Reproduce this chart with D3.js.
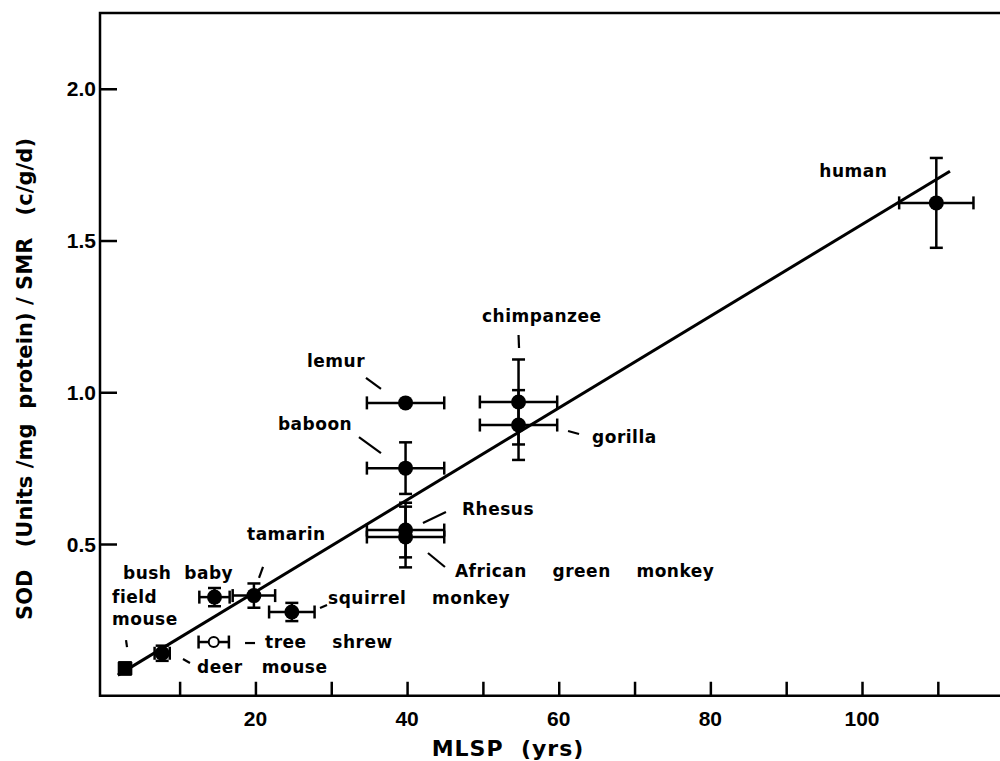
<!DOCTYPE html>
<html>
<head>
<meta charset="utf-8">
<script src="https://cdn.jsdelivr.net/npm/d3@7"></script>
<style>
  html, body { margin: 0; padding: 0; background: #fff; }
  svg { display: block; }
  text { white-space: pre; fill: #000; }
</style>
</head>
<body>
<script>
// ---------------- data ----------------
const species   = ["field mouse", "deer mouse", "tree shrew", "bush baby", "tamarin", "squirrel monkey",
                   "lemur", "baboon", "Rhesus", "African green monkey", "chimpanzee", "gorilla", "human"];
const mlsp      = [2.8, 7.7, 14.5, 14.6, 19.8, 24.8, 39.8, 39.8, 39.8, 39.8, 54.7, 54.7, 109.8];
const mlspErr   = [0.8, 1.0, 2.0, 2.0, 2.8, 3.0, 5.1, 5.1, 5.1, 5.1, 5.1, 5.1, 4.9];
const sodRatio  = [0.09, 0.14, 0.177, 0.325, 0.33, 0.276, 0.965, 0.75, 0.546, 0.523, 0.968, 0.892, 1.624];
const sodErr    = [0.02, 0.025, 0, 0.03, 0.04, 0.03, 0, 0.085, 0.09, 0.10, 0.14, 0.115, 0.148];
const markerKind = ["square", "circle", "open", "circle", "circle", "circle",
                    "circle", "circle", "circle", "circle", "circle", "circle", "circle"];
const xTicks      = [10, 20, 30, 40, 50, 60, 70, 80, 90, 100, 110];
const xTickLabels = [20, 40, 60, 80, 100];
const yTicks      = [0.5, 1.0, 1.5, 2.0];
const fitIntercept = 0.040;
const fitSlope     = 0.01513;
const fitRange     = [1.85, 111.6];

// ---------------- layout (pixel offsets of labels from their point) ----------------
const labelLayout = {
  "human":                {lines: ["human"], dx: -117, dy: -26},
  "chimpanzee":           {lines: ["chimpanzee"], dx: -36.5, dy: -80, leader: [0, -67, 0.5, -54]},
  "lemur":                {lines: ["lemur"], dx: -98.6, dy: -36, leader: [-39.6, -25, -24.6, -14]},
  "baboon":               {lines: ["baboon"], dx: -127.6, dy: -38, leader: [-46.6, -31, -24.6, -15]},
  "Rhesus":               {lines: ["Rhesus"], dx: 56.4, dy: -15, leader: [17.4, -7, 40.4, -18]},
  "African green monkey": {lines: ["African    green    monkey"], dx: 49.4, dy: 40, leader: [22.4, 16, 39.4, 30]},
  "gorilla":              {lines: ["gorilla"], dx: 73.5, dy: 18, leader: [49.5, 6, 60.5, 9]},
  "tamarin":              {lines: ["tamarin"], dx: -6.9, dy: -55.6, leader: [9.1, -28.6, 5.1, -17.6]},
  "bush baby":            {lines: ["bush  baby"], dx: -91.5, dy: -18},
  "field mouse":          {lines: ["field", "mouse"], dx: -13, dy: -65.4, leader: [1, -28.4, 2, -21.4]},
  "deer mouse":           {lines: ["deer   mouse"], dx: 34.8, dy: 19.7, leader: [20.8, 5.7, 27.8, 9.7]},
  "tree shrew":           {lines: ["tree    shrew"], dx: 51.3, dy: 6, leader: [31.3, 1, 41.3, 1]},
  "squirrel monkey":      {lines: ["squirrel    monkey"], dx: 36.2, dy: -8, leader: [28.2, -4, 35.2, -7]}
};

const W = 1000, H = 761;
const svg = d3.select("body").append("svg").attr("width", W).attr("height", H);

const x = d3.scaleLinear().domain([-0.5, 118.2]).range([100, 1000]);
const y = d3.scaleLinear().domain([0, 2.25]).range([695.75, 12.9]);

const labelFont = "'DejaVu Sans', sans-serif";
const tickFont  = "'Liberation Sans', Arial, sans-serif";

// frame: left, bottom and top lines
const frame = svg.append("g").attr("stroke", "#000").attr("stroke-width", 2.5).attr("fill", "none");
frame.append("path").attr("d", `M${x(118.2)},${y(2.25)} H${x(-0.5)} V${y(0)} H${x(118.2)}`)
  .attr("stroke-linejoin", "miter");

// x axis ticks (inward)
const xAxis = d3.axisTop(x).tickValues(xTicks).tickSize(14).tickFormat("");
const gx = svg.append("g").attr("transform", `translate(0,${y(0)})`).call(xAxis);
gx.select(".domain").remove();
gx.selectAll(".tick line").attr("stroke", "#000").attr("stroke-width", 2.5);
svg.append("g").selectAll("text").data(xTickLabels).join("text")
  .attr("x", d => x(d)).attr("y", y(0) + 30)
  .attr("text-anchor", "middle")
  .attr("font-family", tickFont).attr("font-weight", "bold").attr("font-size", 21)
  .text(d => d);

// y axis ticks (inward)
const yAxis = d3.axisRight(y).tickValues(yTicks).tickSize(17).tickFormat("");
const gy = svg.append("g").attr("transform", `translate(${x(-0.5)},0)`).call(yAxis);
gy.select(".domain").remove();
gy.selectAll(".tick line").attr("stroke", "#000").attr("stroke-width", 2.5);
svg.append("g").selectAll("text").data(yTicks).join("text")
  .attr("x", 96).attr("y", d => y(d) + 7.5)
  .attr("text-anchor", "end")
  .attr("font-family", tickFont).attr("font-weight", "bold").attr("font-size", 21)
  .text(d => d.toFixed(1));

// axis titles
svg.append("text")
  .attr("x", 508).attr("y", 756)
  .attr("text-anchor", "middle")
  .attr("font-family", labelFont).attr("font-weight", "bold").attr("font-size", 22)
  .attr("letter-spacing", 1)
  .text("MLSP  (yrs)");
svg.append("text")
  .attr("transform", `translate(32,379) rotate(-90)`)
  .attr("text-anchor", "middle")
  .attr("font-family", labelFont).attr("font-weight", "bold").attr("font-size", 21)
  .attr("textLength", 482).attr("lengthAdjust", "spacing")
  .text("SOD   (Units /mg  protein) / SMR   (c/g/d)");

// regression line
svg.append("line")
  .attr("x1", x(fitRange[0])).attr("y1", y(fitIntercept + fitSlope * fitRange[0]))
  .attr("x2", x(fitRange[1])).attr("y2", y(fitIntercept + fitSlope * fitRange[1]))
  .attr("stroke", "#000").attr("stroke-width", 3);

// error bars + markers
const pts = species.map((s, i) => ({s, i, mx: mlsp[i], me: mlspErr[i], sy: sodRatio[i], se: sodErr[i], kind: markerKind[i]}));
const eb = svg.append("g").attr("stroke", "#000").attr("stroke-width", 2.5).attr("fill", "none");
const cap = 6.5;
pts.forEach(p => {
  const cx = x(p.mx), cy = y(p.sy);
  if (p.me > 0) {
    const x0 = x(p.mx - p.me), x1 = x(p.mx + p.me);
    eb.append("line").attr("x1", x0).attr("x2", x1).attr("y1", cy).attr("y2", cy);
    eb.append("line").attr("x1", x0).attr("x2", x0).attr("y1", cy - cap).attr("y2", cy + cap);
    eb.append("line").attr("x1", x1).attr("x2", x1).attr("y1", cy - cap).attr("y2", cy + cap);
  }
  if (p.se > 0) {
    const y0 = y(p.sy - p.se), y1 = y(p.sy + p.se);
    eb.append("line").attr("x1", cx).attr("x2", cx).attr("y1", y0).attr("y2", y1);
    eb.append("line").attr("x1", cx - cap).attr("x2", cx + cap).attr("y1", y0).attr("y2", y0);
    eb.append("line").attr("x1", cx - cap).attr("x2", cx + cap).attr("y1", y1).attr("y2", y1);
  }
});
const mk = svg.append("g");
pts.forEach(p => {
  const cx = x(p.mx), cy = y(p.sy);
  if (p.kind === "square") {
    mk.append("rect").attr("x", cx - 7).attr("y", cy - 7).attr("width", 14).attr("height", 14).attr("fill", "#000");
  } else if (p.kind === "open") {
    mk.append("circle").attr("cx", cx).attr("cy", cy).attr("r", 5).attr("fill", "#fff")
      .attr("stroke", "#000").attr("stroke-width", 2);
  } else {
    mk.append("circle").attr("cx", cx).attr("cy", cy).attr("r", 7.5).attr("fill", "#000");
  }
});

// labels and leaders
const lab = svg.append("g");
pts.forEach(p => {
  const L = labelLayout[p.s];
  if (!L) return;
  const cx = x(p.mx), cy = y(p.sy);
  L.lines.forEach((t, k) => {
    lab.append("text")
      .attr("x", cx + L.dx).attr("y", cy + L.dy + k * 22)
      .attr("font-family", labelFont).attr("font-weight", "bold").attr("font-size", 17)
      .attr("letter-spacing", 0.5)
      .text(t);
  });
  if (L.leader) {
    const [a, b, c, d] = L.leader;
    lab.append("line").attr("x1", cx + a).attr("y1", cy + b).attr("x2", cx + c).attr("y2", cy + d)
      .attr("stroke", "#000").attr("stroke-width", 2.2);
  }
});
</script>
</body>
</html>
